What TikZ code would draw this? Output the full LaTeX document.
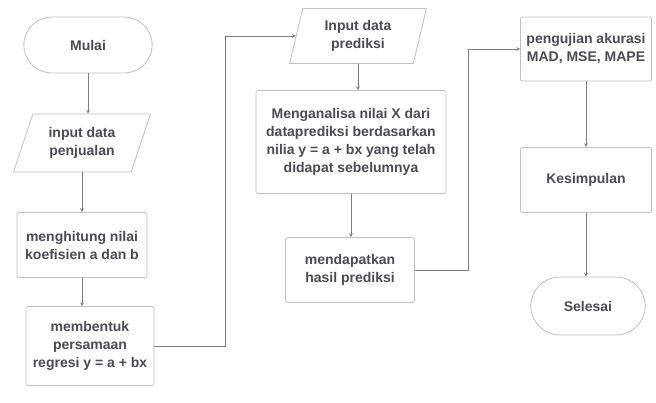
\documentclass[tikz,border=0pt]{standalone}
\usepackage{xcolor}
\usepackage{fontspec}
\setmainfont{Liberation Sans}
\usepackage{tikz}
\usetikzlibrary{shapes,arrows,positioning,calc}

\definecolor{boxline}{RGB}{192,192,192}
\definecolor{flowline}{RGB}{125,125,125}
\definecolor{txtgray}{RGB}{75,75,83}

\begin{document}
\begin{tikzpicture}[
    x=1pt, y=-1pt,
    proc/.style={rectangle, rounded corners=2pt, draw=boxline, line width=0.8pt, fill=white, align=center, text=txtgray, font=\fontsize{14}{18}\selectfont\bfseries},
    terminal/.style={rounded rectangle, draw=boxline, line width=0.8pt, fill=white, align=center, text=txtgray, font=\fontsize{14}{18}\selectfont\bfseries},
    io/.style={trapezium, trapezium stretches=true, draw=boxline, line width=0.8pt, fill=white, align=center, text=txtgray, font=\fontsize{14}{18}\selectfont\bfseries},
    arrow/.style={->, >=stealth, draw=flowline, line width=0.7pt}
]
    \useasboundingbox (0,0) rectangle (656,403);

    % Column 1
    \node[terminal, minimum width=135pt, minimum height=56pt] (mulai) at (88,45) {Mulai};
    \node[io, trapezium left angle=69, trapezium right angle=111, minimum width=137pt, minimum height=58pt] (injual) at (82,143) {input data\\penjualan};
    \node[proc, minimum width=130pt, minimum height=65pt] (hitung) at (82,245) {menghitung nilai\\koefisien a dan b};
    \node[proc, minimum width=128pt, minimum height=79pt] (bentuk) at (90,346) {membentuk\\persamaan\\regresi y = a + bx};

    % Column 2
    \node[io, trapezium left angle=77, trapezium right angle=103, minimum width=138pt, minimum height=55pt] (inpred) at (358,36) {Input data\\prediksi};
    \node[proc, minimum width=190pt, minimum height=103pt] (analisa) at (351,142) {Menganalisa nilai X dari\\dataprediksi berdasarkan\\nilia y = a + bx yang telah\\didapat sebelumnya};
    \node[proc, minimum width=129pt, minimum height=65pt] (hasil) at (350,270) {mendapatkan\\hasil prediksi};

    % Column 3
    \node[proc, minimum width=131pt, minimum height=64pt] (uji) at (586,49) {pengujian akurasi\\MAD, MSE, MAPE};
    \node[proc, minimum width=131pt, minimum height=65pt] (simpul) at (586,180) {Kesimpulan};
    \node[terminal, minimum width=121pt, minimum height=58pt] (selesai) at (588,306) {Selesai};

    % Flow lines
    \draw[arrow] (mulai.south) -- (mulai.south |- injual.north);
    \draw[arrow] (injual.south) -- (injual.south |- hitung.north);
    \draw[arrow] (hitung.south) -- (hitung.south |- bentuk.north);
    \draw[arrow] (bentuk.east) -- ++(71,0) |- (inpred.west);
    \draw[arrow] (inpred.south) -- (inpred.south |- analisa.north);
    \draw[arrow] (analisa.south) -- (analisa.south |- hasil.north);
    \draw[arrow] (hasil.east) -- ++(53,0) |- (uji.west);
    \draw[arrow] (uji.south) -- (uji.south |- simpul.north);
    \draw[arrow] (simpul.south) -- (simpul.south |- selesai.north);
\end{tikzpicture}
\end{document}
